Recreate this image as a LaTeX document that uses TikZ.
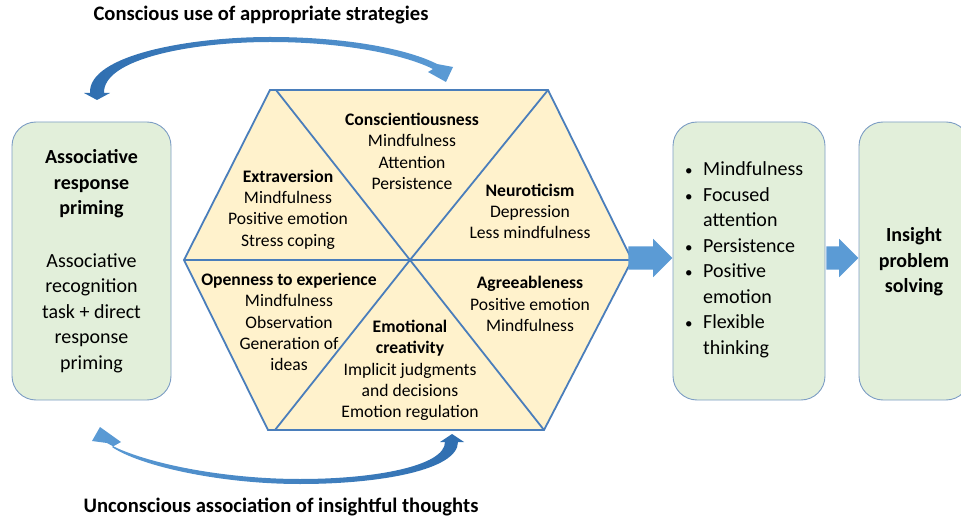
\documentclass[tikz,border=0pt]{standalone}
\usepackage{fontspec}
\setmainfont{Carlito}
\usepackage{tikz}
\usetikzlibrary{
    calc,
    arrows,
    shapes.arrows,
    positioning
}
\definecolor{hexfill}{HTML}{FFF2CC}
\definecolor{hexline}{HTML}{4A7EBB}
\definecolor{boxfill}{HTML}{E2EFDA}
\definecolor{boxline}{HTML}{7C9DC4}
\definecolor{arrowblue}{HTML}{5B9BD5}
\definecolor{arrowdark}{HTML}{2F6EB0}
\newcommand{\bitem}{\makebox[19pt][l]{\hspace{1pt}\fontsize{15}{15}\selectfont\textbullet}}
\tikzset{
    trait/.style={align=center, inner sep=0pt, font=\fontsize{17.6}{21.3}\selectfont},
    box/.style={draw=boxline, fill=boxfill, line width=0.9pt, rounded corners=24pt, inner sep=0pt},
    boxtext/.style={align=center, inner sep=0pt, font=\fontsize{20}{25.5}\selectfont},
    boxtitle/.style={boxtext, font=\fontsize{20}{25.5}\selectfont\bfseries},
    blockarrow/.style={single arrow, fill=arrowblue, draw=none, inner xsep=0pt,
        single arrow head extend=7.5pt},
    caption/.style={inner sep=0pt, font=\fontsize{20.6}{24}\selectfont\bfseries}
}

\begin{document}
\begin{tikzpicture}[x=1pt, y=-1pt]
        \useasboundingbox (0,0) rectangle (961,521);

        % the six traits
        \begin{scope}[line width=1.8pt, hexline]
            \coordinate (hc) at (410,260);
            \coordinate (h1) at (270,90);
            \coordinate (h2) at (548,90);
            \coordinate (hexR) at (632,260);
            \coordinate (h4) at (544,430);
            \coordinate (h5) at (268,430);
            \coordinate (hexL) at (184,260);
            \draw[fill=hexfill] (h1) -- (h2) -- (hexR) -- (h4) -- (h5) -- (hexL) -- cycle;
            \draw (hexL) -- (hexR);
            \draw (276,90) -- (hc) -- (h4);
            \draw (h2) -- (hc) -- (275,430);
        \end{scope}

        \draw (412,151.5) node[trait](t1){\textbf{Conscientiousness}\\Mindfulness\\Attention\\Persistence};
        \draw (288,209.5) node[trait](t2){\textbf{Extraversion}\\Mindfulness\\Positive emotion\\Stress coping};
        \draw (530,211.5) node[trait](t3){\textbf{Neuroticism}\\Depression\\Less mindfulness};
        \draw (289,322)   node[trait](t4){\textbf{Openness to experience}\\Mindfulness\\Observation\\Generation of\\ideas};
        \draw (530,304)   node[trait](t5){\textbf{Agreeableness}\\Positive emotion\\Mindfulness};
        \draw (410,370.5) node[trait](t6){\textbf{Emotional}\\\textbf{creativity}\\Implicit judgments\\and decisions\\Emotion regulation};

        % boxes
        \node[box, minimum width=159pt, minimum height=278pt] (prime) at (91.5,261) {};
        \node[boxtitle] (primetitle) at (91.5,184) {Associative\\response\\priming};
        \node[boxtext] (primetask) at (91.5,313) {Associative\\recognition\\task + direct\\response\\priming};

        \node[box, minimum width=152pt, minimum height=278pt] (skills) at (749,261) {};
        \node[boxtext, align=left, anchor=west] (skilllist) at (684,260)
            {\bitem Mindfulness\\\bitem Focused\\\hspace*{19pt}attention\\\bitem Persistence\\
             \bitem Positive\\\hspace*{19pt}emotion\\\bitem Flexible\\\hspace*{19pt}thinking};

        \node[box, minimum width=111pt, minimum height=278pt] (insight) at (914.5,261) {};
        \node[boxtitle] (insighttext) at (914,262) {Insight\\problem\\solving};

        % block arrows
        \node[blockarrow, inner ysep=11.5pt, minimum height=44pt, anchor=tip] (arr1)
            at ([yshift=3pt]skills.west) {};
        \node[blockarrow, inner ysep=11.5pt, minimum height=32pt, anchor=tip] (arr2)
            at ([yshift=3pt]insight.west) {};

        % curved arrows
        \shade[left color=arrowdark, right color=arrowblue]
            (90,93) .. controls (88,55) and (190,37) .. (270,37)
            .. controls (350,37) and (410,50) .. (437,64)
            -- (453,67) -- (446,82) -- (428,72) -- (433,69)
            .. controls (405,55) and (345,42) .. (270,42)
            .. controls (195,42) and (103,58) .. (104,93)
            -- (110,93) -- (97,100) -- (84,93) -- cycle;
        \shade[left color=arrowblue, right color=arrowdark]
            (458,442) .. controls (458,470) and (380,484) .. (300,484)
            .. controls (220,484) and (140,466) .. (112,447)
            -- (121,442) -- (100,427) -- (92,441) -- (107,443)
            .. controls (140,462) and (220,479) .. (300,479)
            .. controls (375,479) and (445,466) .. (445,442)
            -- (440,442) -- (452,434) -- (464,442) -- cycle;

        \node[caption] (conscious) at (261,15) {Conscious use of appropriate strategies};
        \node[caption] (unconscious) at (281,507) {Unconscious association of insightful thoughts};
    \end{tikzpicture}
\end{document}
